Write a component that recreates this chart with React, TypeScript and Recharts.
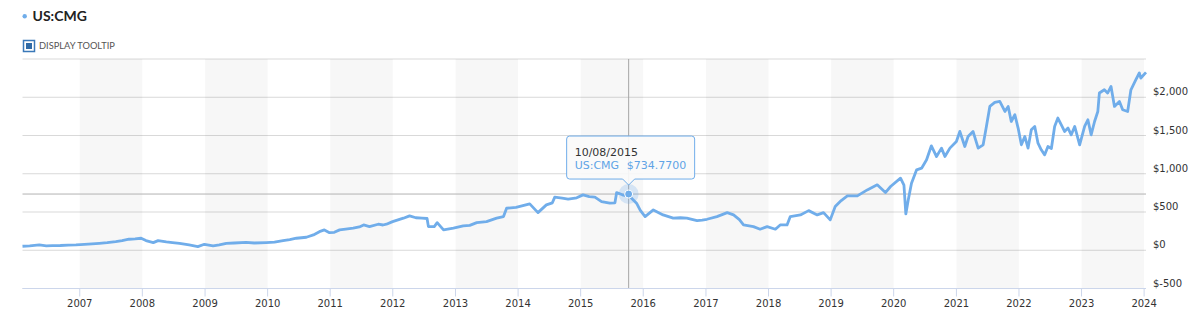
import React from "react";
import {
  CartesianGrid,
  Line,
  LineChart,
  ReferenceArea,
  ReferenceDot,
  ReferenceLine,
  XAxis,
  YAxis,
} from "recharts";

const symbol = "US:CMG";

// closing prices (date, price)
const dates = [
  "2006-02-01", "2006-03-15", "2006-05-10", "2006-06-20", "2006-07-25", "2006-09-10", "2006-10-25", "2006-12-10",
  "2007-01-05", "2007-02-20", "2007-04-25", "2007-06-10", "2007-07-30", "2007-09-05", "2007-10-15", "2007-11-20", "2007-12-25",
  "2008-01-22", "2008-03-05", "2008-04-02", "2008-05-20", "2008-06-25", "2008-08-05", "2008-09-30", "2008-11-20", "2008-12-28",
  "2009-02-17", "2009-03-25", "2009-05-05", "2009-06-20", "2009-08-28", "2009-10-15", "2009-12-24",
  "2010-02-10", "2010-04-01", "2010-05-10", "2010-06-18", "2010-08-15", "2010-09-25", "2010-10-30", "2010-11-28", "2010-12-28",
  "2011-01-25", "2011-02-25", "2011-04-01", "2011-05-15", "2011-06-20", "2011-07-15", "2011-08-18", "2011-10-08", "2011-11-05", "2011-11-25", "2011-12-31",
  "2012-03-03", "2012-04-08", "2012-05-15", "2012-06-20", "2012-07-19", "2012-07-27", "2012-08-30", "2012-09-16", "2012-10-23", "2012-12-20",
  "2013-02-15", "2013-03-25", "2013-05-05", "2013-07-01", "2013-08-29", "2013-10-08", "2013-10-26", "2013-12-20",
  "2014-03-10", "2014-04-27", "2014-06-15", "2014-07-20", "2014-08-03", "2014-09-15", "2014-10-20", "2014-12-09",
  "2015-01-15", "2015-02-20", "2015-03-25", "2015-05-03", "2015-06-20", "2015-07-20", "2015-07-30", "2015-09-01", "2015-09-20", "2015-10-08", "2015-10-25", "2015-11-23", "2015-12-15",
  "2016-01-12", "2016-02-29", "2016-04-26", "2016-06-24", "2016-08-05", "2016-09-11", "2016-11-10", "2016-12-10",
  "2017-01-07", "2017-03-06", "2017-05-05", "2017-06-11", "2017-07-15", "2017-08-08", "2017-10-05", "2017-11-13", "2017-12-24",
  "2018-02-10", "2018-03-10", "2018-04-19", "2018-05-08", "2018-07-06", "2018-08-23", "2018-10-12", "2018-11-18", "2018-12-27",
  "2019-01-25", "2019-03-01", "2019-04-06", "2019-06-03", "2019-07-31", "2019-09-27", "2019-11-14", "2019-12-14",
  "2020-02-10", "2020-03-01", "2020-03-12", "2020-03-26", "2020-04-14", "2020-05-14", "2020-06-12", "2020-07-11", "2020-08-08", "2020-09-07", "2020-10-06", "2020-10-26", "2020-11-24",
  "2021-01-01", "2021-01-21", "2021-02-19", "2021-03-10", "2021-04-08", "2021-05-08", "2021-06-06", "2021-06-25", "2021-07-15", "2021-08-13", "2021-09-11", "2021-10-11", "2021-10-30", "2021-11-17", "2021-12-08", "2021-12-27",
  "2022-01-15", "2022-02-04", "2022-02-23", "2022-03-14", "2022-04-03", "2022-04-22", "2022-05-11", "2022-05-31", "2022-06-19", "2022-07-09", "2022-07-28", "2022-08-16", "2022-09-05", "2022-09-24", "2022-10-14", "2022-11-02", "2022-11-22", "2022-12-21",
  "2023-01-19", "2023-02-07", "2023-02-26", "2023-03-18", "2023-04-06", "2023-04-15", "2023-05-14", "2023-06-02", "2023-06-22", "2023-07-12", "2023-08-10", "2023-08-29", "2023-09-27", "2023-10-16", "2023-11-14", "2023-12-04", "2023-12-13",
  "2024-01-12",
];

const prices = [
  52, 58, 69, 58, 60, 62, 68, 70,
  73, 80, 91, 100, 113, 125, 144, 148, 157,
  126, 100, 126, 109, 100, 91, 69, 47, 78,
  56, 70, 91, 95, 104, 95, 100,
  105, 126, 140, 157, 170, 200, 243, 266, 230,
  235, 266, 275, 288, 305, 331, 309, 340, 330, 340, 374,
  419, 449, 425, 419, 415, 309, 309, 361, 266, 288,
  318, 325, 361, 374, 419, 440, 549, 560,
  606, 492, 593, 620, 694, 680, 667, 685,
  724, 700, 695, 636, 615, 620, 754, 725, 715, 734.77, 680, 615, 520,
  440, 527, 462, 419, 425, 419, 388, 395,
  405, 440, 492, 462, 400, 331, 309, 275, 309,
  275, 331, 331, 440, 462, 518, 462, 492, 397,
  571, 650, 711, 711, 789, 855, 754, 833,
  942, 850, 475, 658, 877, 1051, 1073, 1182, 1365, 1225, 1335, 1225, 1335,
  1422, 1553, 1356, 1487, 1553, 1335, 1378, 1618, 1880, 1932, 1945, 1814, 1880, 1683, 1771, 1597,
  1378, 1487, 1335, 1575, 1618, 1400, 1313, 1247, 1356, 1330, 1618, 1728, 1640, 1553, 1597, 1509, 1618, 1378,
  1618, 1706, 1509, 1683, 1814, 2055, 2098, 2055, 2141, 1880, 1945, 1836, 1814, 2098, 2229, 2317, 2251,
  2325,
];

const yearTicks = [2007, 2008, 2009, 2010, 2011, 2012, 2013, 2014, 2015, 2016, 2017, 2018, 2019, 2020, 2021, 2022, 2023, 2024];
const shadedYears = [2007, 2009, 2011, 2013, 2015, 2017, 2019, 2021, 2023];
const priceTicks = [-500, 0, 500, 1000, 1500, 2000, 2500];

const hoverDate = "2015-10-08";
const hoverPrice = 734.77;

const rows = dates.map((d, i) => ({ t: Date.parse(d), price: prices[i] }));
const yearStart = (y: number) => Date.UTC(y, 0, 1);
const money = (v: number) => "$" + v.toLocaleString("en-US");

const LINE = "#70adea";
const AXIS_FONT = "'DejaVu Sans', Verdana, sans-serif";

const PriceTick = ({ x, y, payload }: any) => {
  if (payload.value === 2500) return <g />;
  return (
    <text x={x} y={y - 2} textAnchor="start" fill="#333" fontSize={10} fontFamily={AXIS_FONT}>
      {money(payload.value)}
    </text>
  );
};

const HoverMarker = ({ cx, cy }: any) => {
  const w = 128;
  const h = 43;
  const r = 3;
  const left = cx - 62;
  const top = cy - 58;
  const bottom = top + h;
  const right = left + w;
  const box =
    `M${left + r},${top} H${right - r} Q${right},${top} ${right},${top + r} V${bottom - r} ` +
    `Q${right},${bottom} ${right - r},${bottom} H${cx + 6} L${cx},${bottom + 6} L${cx - 6},${bottom} ` +
    `H${left + r} Q${left},${bottom} ${left},${bottom - r} V${top + r} Q${left},${top} ${left + r},${top} Z`;
  const [y, m, d] = hoverDate.split("-");
  return (
    <g>
      <circle cx={cx} cy={cy} r={10} fill={LINE} fillOpacity={0.25} />
      <circle cx={cx} cy={cy} r={4} fill={LINE} stroke="#fff" strokeWidth={1} />
      <path d={box} fill="rgba(250,250,250,0.92)" stroke={LINE} strokeWidth={1} />
      <text x={left + 8} y={top + 20} fill="#333" fontSize={11} fontFamily={AXIS_FONT}>
        {`${m}/${d}/${y}`}
      </text>
      <text x={left + 8} y={top + 33} fill="#5fa4e6" fontSize={11} fontFamily={AXIS_FONT}>
        {symbol}
      </text>
      <text x={left + 60} y={top + 33} fill="#5fa4e6" fontSize={11} fontFamily={AXIS_FONT}>
        {"$" + hoverPrice.toFixed(4)}
      </text>
    </g>
  );
};

export default function App() {
  return (
    <div style={{ position: "absolute", left: 0, top: 0, width: 1200, height: 322, background: "#fff" }}>
      <svg width={1200} height={60} style={{ position: "absolute", left: 0, top: 0 }}>
        <circle cx={24.7} cy={16.3} r={2.2} fill={LINE} />
        <text x={32.5} y={21} fontSize={14} fontWeight={700} fill="#222" fontFamily="Lato, sans-serif">
          {symbol}
        </text>
        <rect x={23.5} y={40.5} width={11} height={11} fill="#fff" stroke="#3a78b8" strokeWidth={1.5} />
        <rect x={26.5} y={43.5} width={5} height={5} fill="#2f6aa6" stroke="#2f6aa6" strokeWidth={1} />
        <text x={39} y={49.3} fontSize={9.3} fill="#555" fontFamily="Lato, sans-serif">
          DISPLAY TOOLTIP
        </text>
      </svg>
      <div style={{ position: "absolute", left: 0, top: 0 }}>
        <LineChart
          width={1200}
          height={322}
          data={rows}
          margin={{ top: 59, right: 4, bottom: 3.5, left: 22.5 }}
        >
          {shadedYears.map((yr) => (
            <ReferenceArea
              key={yr}
              x1={yearStart(yr)}
              x2={yearStart(yr + 1)}
              fill="#000"
              fillOpacity={0.03}
              stroke="none"
            />
          ))}
          <CartesianGrid vertical={false} stroke="#d9d9d9" />
          <XAxis
            dataKey="t"
            type="number"
            domain={[rows[0].t, rows[rows.length - 1].t]}
            ticks={yearTicks.map(yearStart)}
            interval={0}
            tickFormatter={(t: number) => String(new Date(t).getUTCFullYear())}
            height={30}
            tickSize={8}
            tickMargin={3}
            axisLine={{ stroke: "#ccd6eb" }}
            tickLine={{ stroke: "#ccd6eb" }}
            tick={{ fill: "#333", fontSize: 10, fontFamily: AXIS_FONT }}
          />
          <YAxis
            orientation="right"
            width={50}
            domain={[-500, 2500]}
            ticks={priceTicks}
            interval={0}
            axisLine={false}
            tickLine={false}
            tickSize={0}
            tickMargin={7}
            tick={<PriceTick />}
          />
          <ReferenceLine x={Date.parse(hoverDate)} stroke="#a6a6a6" />
          <ReferenceLine y={hoverPrice} stroke="#b3b3b3" />
          <Line
            type="linear"
            dataKey="price"
            stroke={LINE}
            strokeWidth={2.8}
            strokeLinejoin="round"
            dot={false}
            activeDot={false}
            isAnimationActive={false}
          />
          <ReferenceDot x={Date.parse(hoverDate)} y={hoverPrice} r={4} shape={(p: any) => <HoverMarker {...p} />} />
        </LineChart>
      </div>
    </div>
  );
}
